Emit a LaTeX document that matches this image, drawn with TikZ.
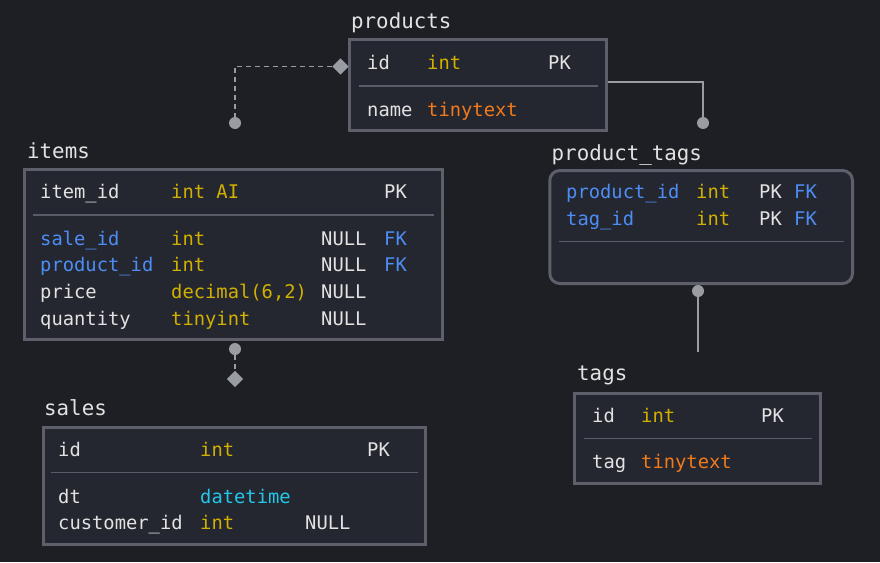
\documentclass[tikz,border=0pt]{standalone}
\usepackage{fontspec}
\setmonofont{DejaVu Sans Mono}
\usetikzlibrary{shapes.geometric}
\definecolor{bg}{HTML}{1E1F24}
\definecolor{boxfill}{HTML}{24272F}
\definecolor{boxline}{HTML}{5D606B}
\definecolor{sepline}{HTML}{5A5D68}
\definecolor{conn}{HTML}{9A9CA3}
\definecolor{txt}{HTML}{E2E2E2}
\definecolor{ylw}{HTML}{D1B000}
\definecolor{org}{HTML}{F27A1A}
\definecolor{blu}{HTML}{4D8DF5}
\definecolor{cyn}{HTML}{22C7E8}
\tikzset{
  tbl/.style={draw=boxline, line width=3pt, fill=boxfill},
  sep/.style={draw=sepline, line width=1.5pt},
  ttl/.style={anchor=base west, inner sep=0pt, text=txt, font=\fontsize{20.8}{22}\selectfont\ttfamily},
  cell/.style={anchor=base west, inner sep=0pt, font=\fontsize{18.8}{20}\selectfont\ttfamily},
  cname/.style={cell, text=txt},
  ctype/.style={cell, text=ylw},
  ctxt/.style={cell, text=org},
  cfk/.style={cell, text=blu},
  cdt/.style={cell, text=cyn},
  dot/.style={circle, fill=conn, inner sep=0pt, minimum size=12pt},
  dia/.style={diamond, fill=conn, inner sep=0pt, minimum width=16.5pt, minimum height=16.5pt},
  cline/.style={draw=conn, line width=1.5pt},
  dline/.style={cline, dash pattern=on 5pt off 4pt},
}
\begin{document}
\begin{tikzpicture}[x=1pt,y=-1pt]
\fill[bg] (0,0) rectangle (880,562);
\useasboundingbox (0,0) rectangle (880,562);

% ---------- products ----------
\node[ttl] (tProducts) at (351,28.3) {products};
\draw[tbl] (349.8,39.8) rectangle (606.8,130.8);
\coordinate (productsL) at (348.3,67);
\coordinate (productsR) at (608.3,82);
\draw[sep] (359,86) -- (598,86);
\node[cname] (p1) at (367,69) {id};
\node[ctype] (p2) at (427,69) {int};
\node[cname] (p3) at (548,69) {PK};
\node[cname] (p4) at (367,116.7) {name};
\node[ctxt] (p5) at (427,116.7) {tinytext};

% ---------- items ----------
\node[ttl] (tItems) at (27,158.3) {items};
\draw[tbl] (24.8,169.8) rectangle (442.8,339.5);
\coordinate (itemsB) at (235,341);
\draw[sep] (33,215) -- (434,215);
\node[cname] (i1) at (40,198.3) {item\_id};
\node[ctype] (i2) at (171,198.3) {int AI};
\node[cname] (i3) at (384,198.3) {PK};
\node[cfk]   (i4) at (40,245) {sale\_id};
\node[ctype] (i5) at (171,245) {int};
\node[cname] (i6) at (321,245) {NULL};
\node[cfk]   (i7) at (384,245) {FK};
\node[cfk]   (i8) at (40,271.7) {product\_id};
\node[ctype] (i9) at (171,271.7) {int};
\node[cname] (i10) at (321,271.7) {NULL};
\node[cfk]   (i11) at (384,271.7) {FK};
\node[cname] (i12) at (40,298.3) {price};
\node[ctype] (i13) at (171,298.3) {decimal(6,2)};
\node[cname] (i14) at (321,298.3) {NULL};
\node[cname] (i15) at (40,325) {quantity};
\node[ctype] (i16) at (171,325) {tinyint};
\node[cname] (i17) at (321,325) {NULL};

% ---------- sales ----------
\node[ttl] (tSales) at (44,415) {sales};
\draw[tbl] (43.2,427.2) rectangle (425.8,544.5);
\draw[sep] (51,472.7) -- (418,472.7);
\node[cname] (s1) at (58,456.7) {id};
\node[ctype] (s2) at (200,456.7) {int};
\node[cname] (s3) at (367,456.7) {PK};
\node[cname] (s4) at (58,503.3) {dt};
\node[cdt]   (s5) at (200,503.3) {datetime};
\node[cname] (s6) at (58,529) {customer\_id};
\node[ctype] (s7) at (200,529) {int};
\node[cname] (s8) at (305,529) {NULL};

% ---------- product_tags ----------
\node[ttl] (tPT) at (551.5,160) {product\_tags};
\draw[tbl, rounded corners=10pt] (549.8,170.5) rectangle (852.5,283.5);
\draw[sep] (559,241.7) -- (844,241.7);
\node[cfk]   (pt1) at (566,198.3) {product\_id};
\node[ctype] (pt2) at (696,198.3) {int};
\node[cname] (pt3) at (759,198.3) {PK};
\node[cfk]   (pt4) at (794,198.3) {FK};
\node[cfk]   (pt5) at (566,225) {tag\_id};
\node[ctype] (pt6) at (696,225) {int};
\node[cname] (pt7) at (759,225) {PK};
\node[cfk]   (pt8) at (794,225) {FK};

% ---------- tags ----------
\node[ttl] (tTags) at (577,380.7) {tags};
\draw[tbl] (574.8,393.2) rectangle (820.8,483.5);
\draw[sep] (584,438.3) -- (812,438.3);
\node[cname] (g1) at (592,422.3) {id};
\node[ctype] (g2) at (641,422.3) {int};
\node[cname] (g3) at (761,422.3) {PK};
\node[cname] (g4) at (592,468.3) {tag};
\node[ctxt]  (g5) at (641,468.3) {tinytext};

% ---------- connectors ----------
% products -> items (dashed, diamond at products)
\node[dia] (d1) at (340.5,66.5) {};
\node[dot] (c1) at (235,123) {};
\draw[dline] (d1.west) -- (c1.center |- d1.west) -- (c1.north);

% products -> product_tags
\node[dot] (c2) at (703,123) {};
\draw[cline] (productsR) -- (c2.center |- productsR) -- (c2.north);

% items -> sales
\node[dot] (c3) at (235,349) {};
\node[dia] (d2) at (235,379) {};
\draw[dline] (c3.south) -- (d2.north);

% product_tags -> tags
\node[dot] (c4) at (698,291) {};
\coordinate (c4end) at (698,352);
\draw[cline] (c4.south) -- (c4end);
\end{tikzpicture}
\end{document}
